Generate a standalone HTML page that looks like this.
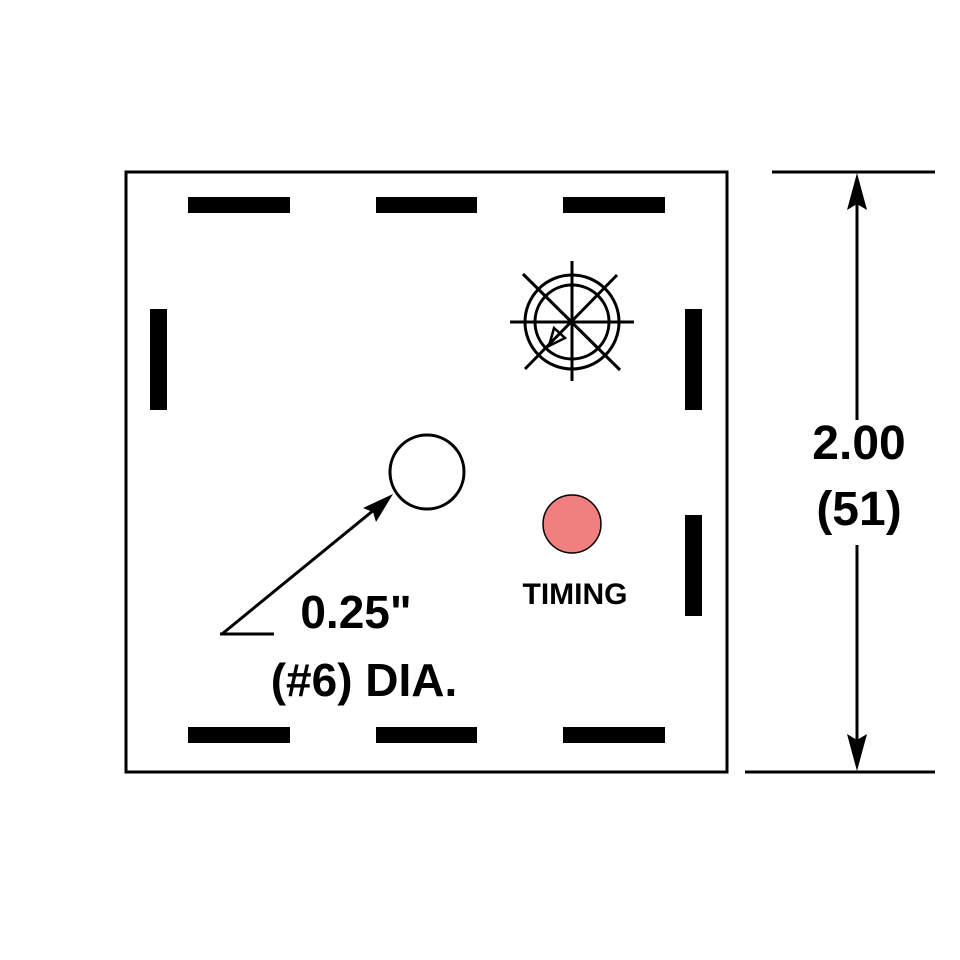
<!DOCTYPE html>
<html><head><style>body{margin:0;background:#fff}svg{display:block}</style></head><body>
<svg width="960" height="960" viewBox="0 0 960 960" xmlns="http://www.w3.org/2000/svg">
<rect x="126" y="172" width="601" height="600" fill="none" stroke="#000" stroke-width="3"/>
<g fill="#000">
<rect x="188" y="197" width="102" height="16"/><rect x="376" y="197" width="101" height="16"/><rect x="563" y="197" width="102" height="16"/>
<rect x="188" y="727" width="102" height="16"/><rect x="376" y="727" width="101" height="16"/><rect x="563" y="727" width="102" height="16"/>
<rect x="150" y="309" width="17" height="101"/><rect x="685" y="309" width="17" height="101"/><rect x="685" y="515" width="17" height="101"/>
</g>
<g stroke="#000" stroke-width="3" fill="none">
<circle cx="572" cy="322" r="47"/><circle cx="572" cy="322" r="37"/>
<line x1="510" y1="322" x2="634" y2="322"/><line x1="572" y1="261" x2="572" y2="381"/>
<line x1="523" y1="274" x2="620" y2="370"/><line x1="617" y1="275" x2="525" y2="369"/>
<path d="M549 346 L554 328 L565 338 Z" stroke-width="2.5"/>
<circle cx="427" cy="472" r="37" stroke-width="3"/>
<line x1="222" y1="634" x2="380" y2="505" stroke-width="3"/>
<line x1="220" y1="634" x2="274" y2="634" stroke-width="3"/>
<line x1="772" y1="172" x2="935" y2="172" stroke-width="3"/>
<line x1="745" y1="772" x2="935" y2="772" stroke-width="3"/>
<line x1="857" y1="185" x2="857" y2="420" stroke-width="3"/>
<line x1="857" y1="545" x2="857" y2="760" stroke-width="3"/>
</g>
<path d="M393 494 L363 508 L373 512 L376 522 Z" fill="#000"/>
<path d="M857 173 L847 210 L857 204 L867 210 Z" fill="#000"/>
<path d="M857 771 L847 734 L857 740 L867 734 Z" fill="#000"/>
<circle cx="572" cy="524" r="29" fill="#f08080" stroke="#000" stroke-width="1.5"/>
<g font-family="Liberation Sans, sans-serif" font-weight="bold" fill="#000" text-anchor="middle">
<text x="575" y="604" font-size="30">TIMING</text>
<text x="356" y="628" font-size="46">0.25"</text>
<text x="364" y="696" font-size="46">(#6) DIA.</text>
<text x="859" y="459" font-size="48">2.00</text>
<text x="859" y="525" font-size="48">(51)</text>
</g>
</svg>
</body></html>
